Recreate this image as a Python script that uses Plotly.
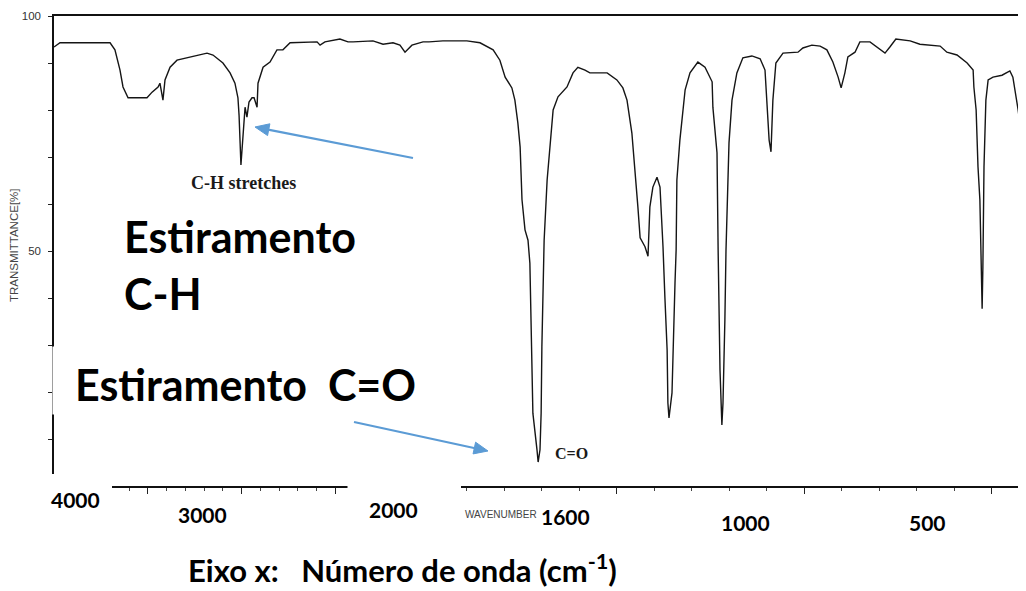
import math
import plotly.graph_objects as go

# ---- data (wavenumber in cm-1, transmittance in %) ----
wavenumber = [
    4000, 3968, 3701, 3675, 3648, 3632, 3605, 3504, 3477, 3445, 3435, 3419, 3408, 3381,
    3344, 3275, 3184, 3152, 3099, 3061, 3035, 3019, 3013, 3003, 2992, 2981, 2971, 2960,
    2944, 2933, 2917, 2912, 2885, 2848, 2811, 2779, 2741, 2597, 2581, 2555, 2475, 2432,
    2405, 2299, 2245, 2192, 2155, 2128, 2091, 2032, 2000,
    1963, 1899, 1864, 1829, 1811, 1797, 1779, 1771, 1763, 1757, 1752, 1744, 1736, 1731,
    1725, 1723, 1712, 1709, 1704, 1701, 1699, 1696, 1693, 1685, 1677, 1669, 1656, 1632,
    1616, 1603, 1584, 1571, 1525, 1499, 1483, 1472, 1459, 1451, 1443, 1437, 1424, 1416,
    1411, 1403, 1392, 1384, 1379, 1376, 1371, 1365, 1363, 1360, 1352, 1349, 1344, 1341,
    1339, 1331, 1317, 1304, 1283, 1264, 1245, 1243, 1232, 1229, 1227, 1224, 1219, 1216,
    1211, 1208, 1200, 1192, 1179, 1163, 1139, 1117, 1104, 1099, 1093, 1088, 1083, 1075,
    1056, 1016, 1003, 979, 957, 939, 923, 909, 901, 891, 883, 864, 851, 824, 805, 784,
    771, 755, 717, 691, 637, 619, 592, 565, 549, 547, 541, 536, 531, 528, 525, 523, 520,
    515, 509, 496, 472, 451, 443, 429, 419, 411, 408,
]
transmittance = [
    93.4, 94.3, 94.3, 92.8, 88.5, 84.9, 82.6, 82.6, 83.8, 84.9, 85.7, 82.1, 86.4, 89.1,
    90.6, 91.3, 92.1, 91.7, 90.0, 87.9, 85.7, 82.6, 78.9, 68.3, 73.6, 80.6, 78.5, 81.7,
    82.6, 82.6, 80.6, 85.7, 89.1, 90.2, 92.8, 92.8, 94.3, 94.5, 93.8, 94.5, 95.1, 94.5,
    94.5, 94.7, 94.0, 94.3, 93.8, 92.3, 93.8, 94.5, 94.5,
    94.7, 94.7, 94.3, 92.8, 90.6, 87.0, 84.7, 82.1, 77.2, 72.1, 60.9, 54.5, 52.3, 47.4,
    27.4, 15.5, 7.7, 5.1, 7.7, 15.5, 29.6, 45.3, 52.3, 65.1, 73.0, 80.0, 82.8, 84.9,
    87.9, 89.1, 88.5, 87.9, 87.9, 86.4, 84.7, 82.1, 75.1, 67.9, 59.4, 52.8, 50.9, 48.9,
    59.4, 63.6, 65.7, 63.6, 57.2, 50.9, 40.2, 28.9, 17.7, 14.5, 19.8, 30.4, 43.2, 50.2,
    65.1, 73.6, 84.3, 87.9, 90.2, 89.1, 86.0, 80.6, 70.9, 50.2, 41.1, 24.7, 13.0, 17.7,
    35.3, 50.2, 73.0, 82.1, 87.9, 91.1, 91.5, 90.9, 88.5, 82.1, 73.6, 71.1, 82.1, 90.0,
    92.1, 92.3, 93.2, 93.8, 93.6, 92.8, 90.2, 87.0, 84.7, 87.9, 91.3, 92.3, 94.5, 94.5, 93.4, 92.1,
    93.4, 95.1, 94.7, 94.0, 93.6, 92.3, 91.7, 90.0, 88.5, 84.9, 80.0, 67.9, 60.9, 50.2, 37.7, 46.6, 67.9,
    82.1, 86.4, 87.0, 87.4, 88.3, 87.0, 80.0, 73.6, 69.4, 68.3,
]

x_break = 2000
x_left_range = [4000, 2000]
x_right_range = [2000, 408]
x_left_major = [3500, 3000, 2500]
x_left_minor = [3900, 3800, 3700, 3600, 3400, 3300, 3200, 3100, 2900, 2800, 2700, 2600, 2400, 2300, 2200, 2100]
x_right_major = [1500, 1000, 500]
x_right_minor = [1900, 1800, 1700, 1600, 1400, 1300, 1200, 1100, 900, 800, 700, 600, 400]
y_labeled_ticks = [50, 100]
y_labeled_text = ["50", "100"]
y_other_ticks = [0, 10, 20, 30, 40, 60, 70, 80, 90]
x_label_texts = ["4000", "3000", "2000", "1600", "1000", "500"]

# ---- geometry (page pixels; the page body adds an 8 px margin) ----
OFF = 8
W, H = 1026 - OFF, 591 - OFF
ML, MR, MT, MB = 54 - OFF, 0, 16 - OFF, 105
PW, PH = W - ML - MR, H - MT - MB
split = (429 - OFF - ML) / PW


def px(x):
    return (x - OFF - ML) / PW


def py(y):
    return (H - MB - (y - OFF)) / PH


left_wn = [w for w in wavenumber if w >= x_break]
left_t = [t for w, t in zip(wavenumber, transmittance) if w >= x_break]
right_wn = [w for w in wavenumber if w <= x_break]
right_t = [t for w, t in zip(wavenumber, transmittance) if w <= x_break]

line_style = dict(color="#151515", width=1.4)
fig = go.Figure()
fig.add_trace(go.Scatter(x=left_wn, y=left_t, mode="lines", line=line_style,
                         xaxis="x", yaxis="y", showlegend=False, hoverinfo="skip"))
fig.add_trace(go.Scatter(x=right_wn, y=right_t, mode="lines", line=line_style,
                         xaxis="x2", yaxis="y", showlegend=False, hoverinfo="skip"))

axis_common = dict(showgrid=False, zeroline=False, showline=True, linecolor="#111",
                   linewidth=1.5, mirror=True, ticks="outside", tickcolor="#222",
                   tickwidth=1.2, ticklen=6, showticklabels=False)

fig.update_layout(
    width=W, height=H,
    margin=dict(l=ML, r=MR, t=MT, b=MB),
    paper_bgcolor="white", plot_bgcolor="white",
    xaxis=dict(domain=[0, split], range=x_left_range, anchor="y",
               tickmode="array", tickvals=x_left_major,
               minor=dict(tickmode="array", tickvals=x_left_minor, ticks="outside",
                          ticklen=3, tickcolor="#444", tickwidth=1),
               **axis_common),
    xaxis2=dict(domain=[split, 1], range=x_right_range, anchor="y",
                tickmode="array", tickvals=x_right_major,
                minor=dict(tickmode="array", tickvals=x_right_minor, ticks="outside",
                           ticklen=3, tickcolor="#444", tickwidth=1),
                **axis_common),
    yaxis=dict(domain=[0, 1], range=[0, 100], anchor="x", showgrid=False, zeroline=False,
               showline=True, linecolor="#111", linewidth=1.5, mirror=False,
               ticks="outside", ticklen=4, tickcolor="#222", tickwidth=1.2,
               tickmode="array", tickvals=y_labeled_ticks, ticktext=y_labeled_text,
               minor=dict(tickmode="array", tickvals=y_other_ticks, ticks="outside",
                          ticklen=4, tickcolor="#222", tickwidth=1.2),
               tickfont=dict(family="Liberation Sans", size=11.5, color="#333"),
               ticklabelstandoff=5),
)

# white boxes of the overlaid labels that hide parts of the axis lines
white_boxes = [
    (38, 474, 112, 497),
    (347.5, 479, 461, 497),
    (52.4, 346.5, 58, 414.5),
]
for x0, y0, x1, y1 in white_boxes:
    fig.add_shape(type="rect", xref="paper", yref="paper", layer="above",
                  x0=px(x0), x1=px(x1), y0=py(y1), y1=py(y0),
                  fillcolor="white", line=dict(width=0))

# blue arrows (page pixels: tail -> tip)
arrow_color = "#5B9BD5"
arrows = [((413, 158), (255, 127)), ((354, 422), (488, 451))]
HEAD_L, HEAD_W = 14, 6
for (sx, sy), (tx, ty) in arrows:
    dx, dy = tx - sx, ty - sy
    n = math.hypot(dx, dy)
    ux, uy = dx / n, dy / n
    bx, by = tx - ux * HEAD_L, ty - uy * HEAD_L
    fig.add_shape(type="line", xref="paper", yref="paper", layer="above",
                  x0=px(sx), y0=py(sy), x1=px(bx + ux * 2), y1=py(by + uy * 2),
                  line=dict(color=arrow_color, width=2.2))
    p1 = (bx - uy * HEAD_W, by + ux * HEAD_W)
    p2 = (bx + uy * HEAD_W, by - ux * HEAD_W)
    path = "M {:.5f},{:.5f} L {:.5f},{:.5f} L {:.5f},{:.5f} Z".format(
        px(tx), py(ty), px(p1[0]), py(p1[1]), px(p2[0]), py(p2[1]))
    fig.add_shape(type="path", xref="paper", yref="paper", layer="above", path=path,
                  fillcolor=arrow_color, line=dict(color=arrow_color, width=1))

ann = []
big = dict(family="Lato", size=43, color="black")
ann.append(dict(text="<b>Estiramento</b>", x=px(122), y=py(237), xanchor="left", yanchor="middle", font=big))
ann.append(dict(text="<b>C-H</b>", x=px(122), y=py(293), xanchor="left", yanchor="middle", font=big))
ann.append(dict(text="<b>Estiramento&nbsp;&nbsp;C=O</b>", x=px(73), y=py(384), xanchor="left", yanchor="middle", font=big))

ann.append(dict(text="<b>C-H stretches</b>", x=px(243), y=py(183), xanchor="center", yanchor="middle",
                font=dict(family="Liberation Serif", size=18, color="#1a1a1a")))
ann.append(dict(text="<b>C=O</b>", x=px(571), y=py(453), xanchor="center", yanchor="middle",
                font=dict(family="Liberation Serif", size=16, color="#1a1a1a")))

num_font = dict(family="Lato", size=21, color="black")
label_pos = [(75, 500), (202, 515), (393, 509), (565, 516), (745, 522), (927, 522)]
for txt, (lx, ly) in zip(x_label_texts, label_pos):
    ann.append(dict(text=f"<b>{txt}</b>", x=px(lx), y=py(ly), xanchor="center", yanchor="middle", font=num_font))

ann.append(dict(text="WAVENUMBER", x=px(501), y=py(515), xanchor="center", yanchor="middle",
                font=dict(family="Liberation Sans", size=10, color="#444")))
ann.append(dict(text="TRANSMITTANCE[%]", x=px(14), y=py(245), xanchor="center", yanchor="middle",
                textangle=-90, font=dict(family="Liberation Sans", size=11.5, color="#444")))
ann.append(dict(text="<b>Eixo x:&nbsp;&nbsp;&nbsp;Número de onda (cm<sup>-1</sup>)</b>", x=px(402), y=py(568),
                xanchor="center", yanchor="middle", font=dict(family="Lato", size=31, color="black")))

for a in ann:
    a.update(xref="paper", yref="paper", showarrow=False)

fig.update_layout(annotations=ann)
fig.write_html("out.html")
